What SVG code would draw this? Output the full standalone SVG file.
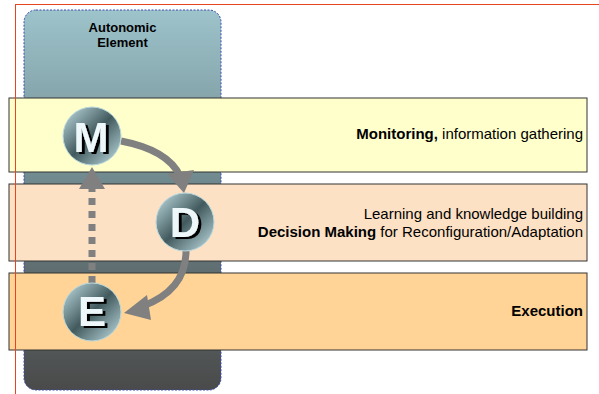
<svg xmlns="http://www.w3.org/2000/svg" width="599" height="394" viewBox="0 0 599 394">
<defs>
<linearGradient id="ae" x1="0" y1="0" x2="0" y2="1">
<stop offset="0" stop-color="#9DC3CB"/>
<stop offset="0.45" stop-color="#70898E"/>
<stop offset="1" stop-color="#4A4A4A"/>
</linearGradient>
<linearGradient id="ball" x1="0" y1="0" x2="1" y2="1">
<stop offset="0" stop-color="#C5E3E8"/>
<stop offset="0.5" stop-color="#425A5E"/>
<stop offset="1" stop-color="#C5E3E8"/>
</linearGradient>
<filter id="sh" x="-20%" y="-20%" width="150%" height="150%">
<feOffset in="SourceAlpha" dx="2.5" dy="2" result="o"/>
<feMerge><feMergeNode in="o"/><feMergeNode in="SourceGraphic"/></feMerge>
</filter>
<style>
.band{stroke:#333;stroke-width:1}
.t{font-family:"Liberation Sans",Arial,sans-serif;font-size:15px;fill:#000}
.b{font-weight:bold}
.ae{font-size:13px;font-weight:bold;text-anchor:middle}
.lt{font-family:"Liberation Sans",Arial,sans-serif;font-size:42px;font-weight:bold;text-anchor:middle;fill:#EEF8FA;filter:url(#sh)}
.conn{fill:none;stroke:#808080;stroke-width:7}
.ah{fill:#808080}
.ballc{fill:url(#ball);stroke:#B8D8DE;stroke-width:1}
</style>
</defs>
<rect width="599" height="394" fill="#fff"/>
<g id="autonomic-element">
<rect x="24" y="10" width="197" height="380" rx="12" fill="url(#ae)" stroke="#3A4DB0" stroke-width="1" stroke-dasharray="2,1.5"/>
<text class="t ae" x="122.5" y="32">Autonomic</text>
<text class="t ae" x="122.5" y="47">Element</text>
</g>
<g id="band-monitoring">
<rect class="band" x="9" y="98" width="578" height="74" fill="#FFFFCC"/>
<text class="t" x="583" y="139" text-anchor="end"><tspan class="b">Monitoring,</tspan> information gathering</text>
</g>
<g id="band-decision">
<rect class="band" x="9" y="184" width="578" height="77" fill="#FDE1C5"/>
<text class="t" x="583" y="219" text-anchor="end">Learning and knowledge building</text>
<text class="t" x="583" y="237" text-anchor="end"><tspan class="b">Decision Making</tspan> for Reconfiguration/Adaptation</text>
</g>
<g id="band-execution">
<rect class="band" x="9" y="273" width="578" height="77" fill="#FFD496"/>
<text class="t b" x="583" y="316" text-anchor="end">Execution</text>
</g>
<g id="connectors">
<path class="conn" d="M121,141 Q168,150 180,176"/>
<path class="ah" d="M167,174 L184,193 L194,170 Z"/>
<path class="conn" d="M186,251 Q186,290 143,306"/>
<path class="ah" d="M147,295 L124,313 L151,320 Z"/>
<path class="conn" d="M92,283 L92,186" stroke-dasharray="7,6"/>
<path class="ah" d="M79,189 L92,167 L105,189 Z"/>
</g>
<g id="node-m">
<circle class="ballc" cx="92" cy="136" r="29"/>
<text class="lt" x="91" y="152">M</text>
</g>
<g id="node-d">
<circle class="ballc" cx="185" cy="222" r="29"/>
<text class="lt" x="185" y="237">D</text>
</g>
<g id="node-e">
<circle class="ballc" cx="92" cy="312" r="29"/>
<text class="lt" x="92" y="326">E</text>
</g>
<g id="frame" stroke="#E8451E" stroke-width="1">
<line x1="15" y1="4.5" x2="599" y2="4.5"/>
<line x1="15.5" y1="4" x2="15.5" y2="394"/>
</g>
</svg>
